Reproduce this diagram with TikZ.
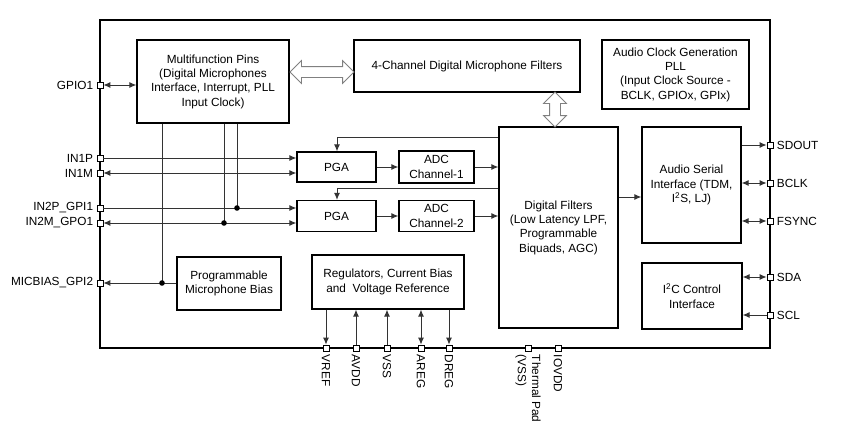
\documentclass[tikz,border=0pt]{standalone}
\usepackage{fontspec}
\setmainfont{Liberation Sans}
\usetikzlibrary{arrows.meta,shapes.arrows,calc,positioning}
\tikzstyle{every node}=[font=\fontsize{11.8}{14.3}\selectfont]
\tikzstyle{block}=[draw, line width=1.3pt, align=center, inner sep=2pt]
\tikzstyle{pinsq}=[draw, line width=0.8pt, fill=white, minimum size=6pt, inner sep=0pt]
\tikzstyle{wire}=[draw=black!80, line width=0.9pt]
\tikzstyle{conn}=[wire, -{Latex[length=7pt,width=6pt]}]
\tikzstyle{biconn}=[wire, {Latex[length=7pt,width=6pt]}-{Latex[length=7pt,width=6pt]}]
\tikzstyle{hollow}=[double arrow, draw=black!50, fill=white, line width=0.8pt, inner sep=5pt, double arrow head extend=6pt]
\tikzstyle{vlabel}=[rotate=-90, anchor=west, align=left]

\begin{document}
\begin{tikzpicture}[x=1pt, y=-1pt]
  \useasboundingbox (0,0) rectangle (842,447);
  % device outline
  \draw[line width=1.2pt] (100,20) rectangle (770,348);

  % blocks
  \node[block, minimum width=152, minimum height=83] (multiPins) at (213,81.5) {Multifunction Pins\\(Digital Microphones\\Interface, Interrupt, PLL\\Input Clock)};
  \node[block, minimum width=226, minimum height=52] (chFilters) at (467,66) {4-Channel Digital Microphone Filters};
  \node[block, minimum width=147, minimum height=69] (clockGen) at (675.5,74.5) {Audio Clock Generation\\PLL\\(Input Clock Source -\\BCLK, GPIOx, GPIx)};
  \node[block, minimum width=79, minimum height=30] (pga1) at (336.5,167) {PGA};
  \node[block, minimum width=79, minimum height=31] (pga2) at (336.5,216) {PGA};
  \node[block, minimum width=75, minimum height=32] (adc1) at (436.5,167) {ADC\\Channel-1};
  \node[block, minimum width=75, minimum height=31] (adc2) at (436.5,216) {ADC\\Channel-2};
  \node[block, minimum width=119, minimum height=201] (digFilters) at (558.5,227.5) {Digital Filters\\(Low Latency LPF,\\Programmable\\Biquads, AGC)};
  \node[block, minimum width=99, minimum height=116] (audioSerial) at (691.5,185) {Audio Serial\\Interface (TDM,\\I\textsuperscript{2}S, LJ)};
  \node[block, minimum width=100, minimum height=66] (i2cCtrl) at (692,296) {I\textsuperscript{2}C Control\\Interface};
  \node[block, minimum width=104, minimum height=53] (micBias) at (229,283.5) {Programmable\\Microphone Bias};
  \node[block, minimum width=152, minimum height=54] (regulators) at (388,282) {Regulators, Current Bias\\and\ \ Voltage Reference};

  % wide arrows
  \node[hollow, minimum height=64, minimum width=22] (hArrow) at (322,72) {};
  \node[hollow, shape border rotate=90, minimum height=35, minimum width=22] (vArrow) at (555,109.5) {};

  % pins, left side
  \node[pinsq, label=left:GPIO1] (gpio1) at (100,85) {};
  \node[pinsq, label=left:IN1P] (in1p) at (100,158) {};
  \node[pinsq, label=left:IN1M] (in1m) at (100,173) {};
  \node[pinsq, label=left:IN2P\_GPI1] (in2p) at (100,208) {};
  \node[pinsq, label=left:IN2M\_GPO1] (in2m) at (100,223) {};
  \node[pinsq, label=left:MICBIAS\_GPI2] (micbias) at (100,283) {};
  % pins, right side
  \node[pinsq, label=right:SDOUT] (sdout) at (770,145) {};
  \node[pinsq, label=right:BCLK] (bclk) at (770,183) {};
  \node[pinsq, label=right:FSYNC] (fsync) at (770,221) {};
  \node[pinsq, label=right:SDA] (sda) at (770,277) {};
  \node[pinsq, label=right:SCL] (scl) at (770,315) {};
  % pins, bottom
  \node[pinsq, label={[vlabel]below:VREF}] (vref) at (326,348) {};
  \node[pinsq, label={[vlabel]below:AVDD}] (avdd) at (356,348) {};
  \node[pinsq, label={[vlabel]below:VSS}] (vss) at (387,348) {};
  \node[pinsq, label={[vlabel]below:AREG}] (areg) at (421,348) {};
  \node[pinsq, label={[vlabel]below:DREG}] (dreg) at (449,348) {};
  \node[pinsq, label={[vlabel]below:Thermal Pad\\(VSS)}] (thermal) at (528,348) {};
  \node[pinsq, label={[vlabel]below:IOVDD}] (iovdd) at (558,348) {};

  % inputs
  \draw[biconn] (gpio1) -- (gpio1 -| multiPins.west);
  \draw[conn] (in1p) -- (in1p -| pga1.west);
  \draw[biconn] (in1m) -- (in1m -| pga1.west);
  \draw[conn] (in2p) -- (in2p -| pga2.west);
  \draw[biconn] (in2m) -- (in2m -| pga2.west);
  \draw[conn] (micBias.west |- micbias) -- (micbias);

  % taps from the multifunction pins
  \coordinate (tapMic) at (162,283);
  \coordinate (tapIn2m) at (224,223);
  \coordinate (tapIn2p) at (237,208);
  \foreach \t in {tapMic,tapIn2m,tapIn2p} {
    \draw[wire] (multiPins.south -| \t) -- (\t);
    \fill (\t) circle (2.8);
  }

  % signal path
  \draw[conn] (digFilters.west |- 0,137) -| (pga1.north -| 337,0);
  \draw[conn] (digFilters.west |- 0,188) -| (pga2.north -| 337,0);
  \draw[conn] (pga1) -- (adc1);
  \draw[conn] (pga2) -- (adc2);
  \draw[conn] (adc1) -- (adc1 -| digFilters.west);
  \draw[conn] (adc2) -- (adc2 -| digFilters.west);
  \draw[conn] (digFilters.east |- 0,197) -- (audioSerial.west |- 0,197);

  % serial and control ports
  \draw[conn] (audioSerial.east |- sdout) -- (sdout);
  \draw[biconn] (audioSerial.east |- bclk) -- (bclk);
  \draw[biconn] (audioSerial.east |- fsync) -- (fsync);
  \draw[biconn] (i2cCtrl.east |- sda) -- (sda);
  \draw[conn] (scl) -- (i2cCtrl.east |- scl);

  % supplies
  \draw[conn] (regulators.south -| vref) -- (vref);
  \draw[conn] (avdd) -- (regulators.south -| avdd);
  \draw[conn] (vss) -- (regulators.south -| vss);
  \draw[biconn] (regulators.south -| areg) -- (areg);
  \draw[conn] (regulators.south -| dreg) -- (dreg);
\end{tikzpicture}
\end{document}
